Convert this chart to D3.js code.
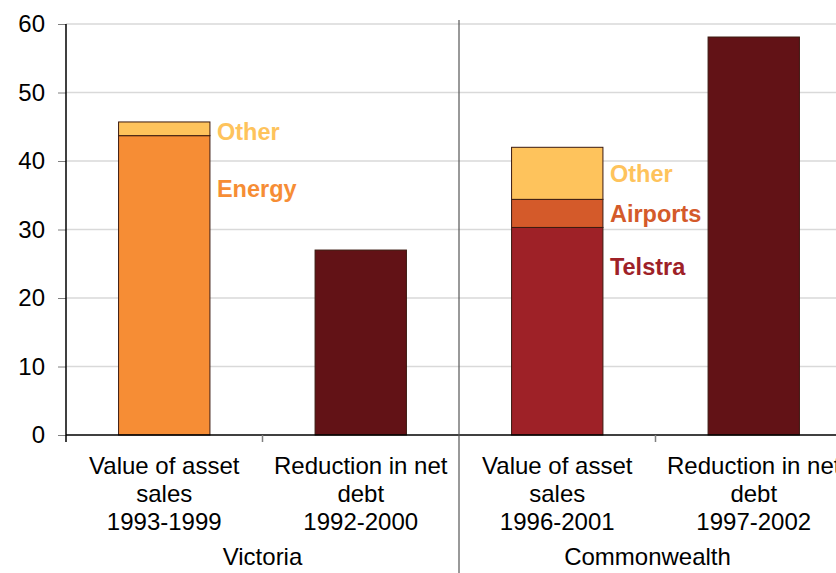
<!DOCTYPE html>
<html>
<head>
<meta charset="utf-8">
<script src="https://cdn.jsdelivr.net/npm/d3@7"></script>
<style>
  html, body { margin: 0; padding: 0; background: #fff; }
  svg { display: block; font-family: Arial, "Liberation Sans", sans-serif; }
</style>
</head>
<body>
<svg id="chart" width="836" height="573"></svg>
<script>
// Asset sales versus reduction in net debt ($ billion)
const groups = ["Victoria", "Commonwealth"];
const categories = ["vicSales", "vicDebt", "cwSales", "cwDebt"];
const categoryGroup = ["Victoria", "Victoria", "Commonwealth", "Commonwealth"];
const categoryLines = [
  ["Value of asset", "sales", "1993-1999"],
  ["Reduction in net", "debt", "1992-2000"],
  ["Value of asset", "sales", "1996-2001"],
  ["Reduction in net", "debt", "1997-2002"]
];
const segmentNames = ["Telstra", "Energy", "Airports", "Other", "Net debt"];
const segmentColors = ["#9E2127", "#F68D35", "#D45A2A", "#FEC35C", "#621216"];
// values per category, one row per segment name
const telstra  = [0,    0,    30.3, 0];
const energy   = [43.7, 0,    0,    0];
const airports = [0,    0,    4.1,  0];
const other    = [2.0,  0,    7.6,  0];
const netDebt  = [0,    27.0, 0,    58.1];
const yTicks = [0, 10, 20, 30, 40, 50, 60];
// segments that carry a label beside their bar
const labelled = [
  { cat: "vicSales", seg: "Other" },
  { cat: "vicSales", seg: "Energy" },
  { cat: "cwSales", seg: "Other" },
  { cat: "cwSales", seg: "Airports" },
  { cat: "cwSales", seg: "Telstra" }
];

const W = 836, H = 573;
const mLeft = 66, mTop = 24, mBottom = 435;
const step = 196.5;

const svg = d3.select("#chart");
const x = d3.scaleBand().domain(categories).range([mLeft, mLeft + step * categories.length]).padding(0);
const y = d3.scaleLinear().domain([0, 60]).range([mBottom, mTop]);
const color = d3.scaleOrdinal().domain(segmentNames).range(segmentColors);
const barW = x.bandwidth() * 0.465;

// gridlines
svg.append("g").selectAll("line").data(yTicks.filter(d => d > 0)).join("line")
  .attr("x1", mLeft).attr("x2", W)
  .attr("y1", d => y(d)).attr("y2", d => y(d))
  .attr("stroke", "#d9d9d9").attr("stroke-width", 1.5);

// stacked data
const rows = categories.map((c, i) => ({
  cat: c, Telstra: telstra[i], Energy: energy[i], Airports: airports[i], Other: other[i], "Net debt": netDebt[i]
}));
const stack = d3.stack().keys(segmentNames)(rows);

const bars = svg.append("g");
stack.forEach(layer => {
  bars.selectAll(null).data(layer.filter(d => d[1] - d[0] > 0)).join("rect")
    .attr("x", d => x(d.data.cat) + (x.bandwidth() - barW) / 2)
    .attr("width", barW)
    .attr("y", d => y(d[1]))
    .attr("height", d => y(d[0]) - y(d[1]))
    .attr("fill", color(layer.key))
    .attr("stroke", "#3b1a10").attr("stroke-width", 1);
});

// segment labels
svg.append("g").selectAll("text").data(labelled).join("text")
  .attr("x", d => x(d.cat) + (x.bandwidth() + barW) / 2 + 7)
  .attr("y", d => {
    const layer = stack.find(l => l.key === d.seg);
    const v = layer[categories.indexOf(d.cat)];
    let mid = (y(v[0]) + y(v[1])) / 2;
    if (d.seg === "Other" && d.cat === "vicSales") mid = y(v[1]) + 10;
    if (d.seg === "Energy") mid = y(v[1]) + 53;
    if (d.seg === "Telstra") mid = y(v[1]) + 39;
    return mid;
  })
  .attr("dy", "0.35em")
  .attr("fill", d => color(d.seg))
  .attr("font-weight", "bold")
  .attr("font-size", 23.5)
  .text(d => d.seg);

// y axis
const yAxis = svg.append("g").attr("transform", `translate(${mLeft},0)`)
  .call(d3.axisLeft(y).tickValues(yTicks).tickSize(8).tickPadding(13));
yAxis.select(".domain").remove();
yAxis.selectAll(".tick line").attr("stroke", "#7f7f7f");
yAxis.selectAll(".tick text").attr("font-size", 24).attr("fill", "#000").attr("font-family", "Arial, 'Liberation Sans', sans-serif");
svg.append("line").attr("x1", mLeft).attr("x2", mLeft).attr("y1", mTop).attr("y2", mBottom + 7)
  .attr("stroke", "#000").attr("stroke-width", 1.5);

// x axis baseline and category ticks
svg.append("line").attr("x1", mLeft).attr("x2", W).attr("y1", mBottom).attr("y2", mBottom)
  .attr("stroke", "#000").attr("stroke-width", 1.5);
svg.append("g").selectAll("line").data(categories.filter((c, i) => i % 2 === 1)).join("line")
  .attr("x1", d => x(d)).attr("x2", d => x(d))
  .attr("y1", mBottom).attr("y2", mBottom + 7)
  .attr("stroke", "#7f7f7f").attr("stroke-width", 1.5);

// divider between groups
const divX = x(categories[2]);
svg.append("line").attr("x1", divX).attr("x2", divX).attr("y1", mTop - 4).attr("y2", H)
  .attr("stroke", "#555").attr("stroke-width", 1.2);

// category labels
const catText = svg.append("g").selectAll("text").data(categories).join("text")
  .attr("x", d => x(d) + x.bandwidth() / 2)
  .attr("y", 473.5)
  .attr("text-anchor", "middle")
  .attr("font-size", 24)
  .attr("fill", "#000");
catText.each(function(d, i) {
  d3.select(this).selectAll("tspan").data(categoryLines[i]).join("tspan")
    .attr("x", x(d) + x.bandwidth() / 2)
    .attr("dy", (t, j) => j === 0 ? 0 : 28)
    .text(t => t);
});

// group labels, centred on the visible part of each group
svg.append("g").selectAll("text").data(groups).join("text")
  .attr("x", g => {
    const cs = categories.filter((c, i) => categoryGroup[i] === g);
    const x0 = x(cs[0]), x1 = Math.min(W, x(cs[cs.length - 1]) + x.bandwidth());
    return (x0 + x1) / 2;
  })
  .attr("y", 565)
  .attr("text-anchor", "middle")
  .attr("font-size", 24)
  .attr("fill", "#000")
  .text(g => g);
</script>
</body>
</html>
